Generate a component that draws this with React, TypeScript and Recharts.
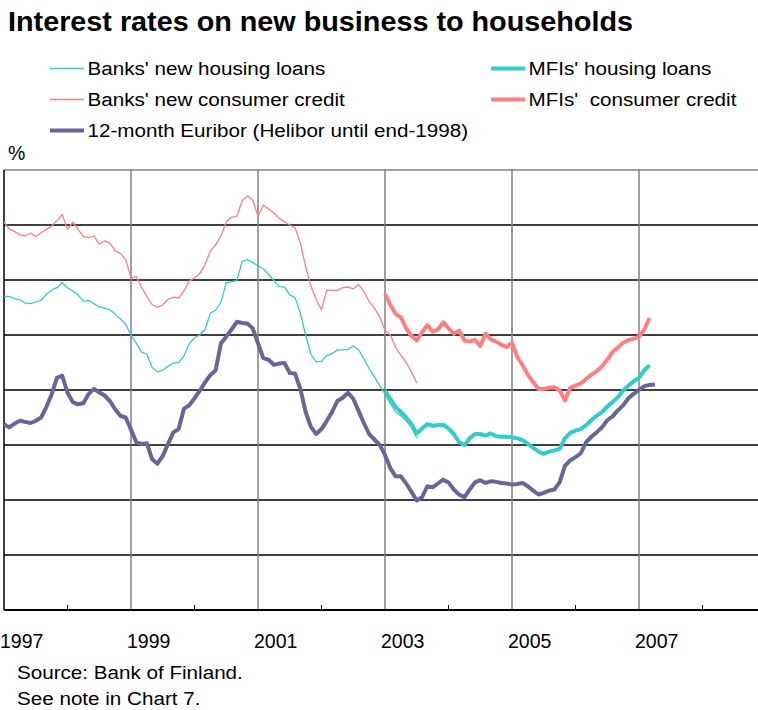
import { LineChart, Line, XAxis, YAxis, ReferenceLine } from 'recharts'

// monthly observations, Jan 1997 = index 0
const startYear = 1997
const mfiStart = 72 // Jan 2003

const euribor = [
  3.38, 3.32, 3.39, 3.44, 3.42, 3.40, 3.44, 3.50, 3.69, 3.92, 4.22, 4.26,
  3.95, 3.78, 3.74, 3.76, 3.93, 4.02, 3.96, 3.90, 3.80, 3.65, 3.53, 3.50,
  3.28, 3.05, 3.02, 3.03, 2.74, 2.66, 2.80, 3.02, 3.23, 3.29, 3.66, 3.72,
  3.85, 3.99, 4.14, 4.27, 4.36, 4.85, 4.97, 5.10, 5.24, 5.22, 5.21, 5.12,
  4.85, 4.58, 4.55, 4.46, 4.48, 4.49, 4.31, 4.30, 4.02, 3.60, 3.33, 3.20,
  3.29, 3.44, 3.60, 3.80, 3.86, 3.95, 3.84, 3.62, 3.40, 3.20, 3.10, 3.00,
  2.82, 2.58, 2.43, 2.43, 2.30, 2.15, 1.99, 2.05, 2.25, 2.23, 2.30, 2.37,
  2.32, 2.19, 2.10, 2.05, 2.19, 2.32, 2.36, 2.31, 2.34, 2.33, 2.31, 2.30,
  2.28, 2.29, 2.31, 2.25, 2.17, 2.10, 2.13, 2.17, 2.19, 2.32, 2.62, 2.72,
  2.78, 2.85, 3.05, 3.15, 3.23, 3.32, 3.45, 3.52, 3.63, 3.72, 3.85, 3.93,
  4.00, 4.07, 4.09, 4.10,
]

const banksHousing = [
  5.70, 5.70, 5.66, 5.64, 5.58, 5.57, 5.60, 5.63, 5.74, 5.82, 5.86, 5.95,
  5.86, 5.80, 5.73, 5.61, 5.63, 5.57, 5.51, 5.49, 5.46, 5.38, 5.29, 5.19,
  5.00, 4.85, 4.69, 4.65, 4.41, 4.33, 4.36, 4.43, 4.49, 4.50, 4.62, 4.84,
  4.95, 5.00, 5.10, 5.40, 5.45, 5.60, 5.95, 5.97, 5.99, 6.34, 6.37, 6.32,
  6.26, 6.20, 6.10, 5.99, 5.88, 5.87, 5.73, 5.68, 5.40, 5.00, 4.65, 4.51,
  4.52, 4.63, 4.66, 4.73, 4.73, 4.74, 4.80, 4.73, 4.57, 4.39, 4.24, 4.08,
  3.93, 3.75, 3.60, 3.53, 3.44, 3.32, 3.13,
]

const banksConsumer = [
  7.05, 6.93, 6.88, 6.82, 6.80, 6.85, 6.79, 6.86, 6.92, 6.98, 7.08, 7.19,
  6.92, 7.05, 6.92, 6.79, 6.77, 6.80, 6.65, 6.71, 6.67, 6.53, 6.48, 6.37,
  6.04, 6.06, 5.87, 5.70, 5.55, 5.50, 5.55, 5.65, 5.69, 5.67, 5.80, 5.98,
  6.04, 6.12, 6.28, 6.53, 6.64, 6.80, 7.06, 7.14, 7.16, 7.44, 7.53, 7.45,
  7.16, 7.36, 7.29, 7.22, 7.12, 7.06, 7.00, 6.95, 6.67, 6.24, 5.89, 5.64,
  5.46, 5.82, 5.81, 5.81, 5.86, 5.87, 5.84, 5.92, 5.79, 5.61, 5.49, 5.33,
  5.08, 5.00, 4.78, 4.63, 4.50, 4.33, 4.13,
]

const mfiHousing = [
  3.99, 3.84, 3.69, 3.60, 3.50, 3.38, 3.21, 3.30, 3.38, 3.35, 3.36, 3.37,
  3.30, 3.20, 3.05, 3.00, 3.12, 3.20, 3.20, 3.17, 3.21, 3.16, 3.15, 3.15,
  3.14, 3.12, 3.09, 3.02, 2.95, 2.88, 2.84, 2.88, 2.90, 2.93, 3.12, 3.22,
  3.26, 3.29, 3.36, 3.45, 3.53, 3.60, 3.70, 3.78, 3.87, 3.99, 4.08, 4.16,
  4.22, 4.36, 4.45,
]

const mfiConsumer = [
  5.75, 5.55, 5.38, 5.32, 5.12, 4.98, 4.90, 5.05, 5.18, 5.06, 5.10, 5.23,
  5.12, 5.02, 5.08, 4.90, 4.88, 4.91, 4.80, 5.02, 4.92, 4.88, 4.82, 4.78,
  4.86, 4.60, 4.45, 4.28, 4.14, 4.02, 4.02, 4.04, 4.05, 3.99, 3.81, 4.04,
  4.08, 4.12, 4.20, 4.28, 4.34, 4.43, 4.55, 4.69, 4.77, 4.86, 4.91, 4.93,
  4.97, 5.10, 5.31,
]

const yearTicks = [1997, 1998, 1999, 2000, 2001, 2002, 2003, 2004, 2005, 2006, 2007, 2008]
const gridYears = [1999, 2001, 2003, 2005, 2007]
const gridValues = [1, 2, 3, 4, 5, 6, 7]

const CYAN = '#33cccc'
const SALMON = '#ff8080'
const PURPLE = '#666699'

const legendItems = [
  { label: "Banks' new housing loans", color: CYAN, width: 1.5, col: 0, row: 0 },
  { label: "Banks' new consumer credit", color: SALMON, width: 1.5, col: 0, row: 1 },
  { label: '12-month Euribor (Helibor until end-1998)', color: PURPLE, width: 4, col: 0, row: 2 },
  { label: "MFIs' housing loans", color: CYAN, width: 4, col: 1, row: 0 },
  { label: "MFIs'  consumer credit", color: SALMON, width: 4, col: 1, row: 1 },
]

const data = euribor.map((v, i) => ({
  t: startYear + i / 12,
  euribor: v,
  banksHousing: i < banksHousing.length ? banksHousing[i] : null,
  banksConsumer: i < banksConsumer.length ? banksConsumer[i] : null,
  mfiHousing: i >= mfiStart && i - mfiStart < mfiHousing.length ? mfiHousing[i - mfiStart] : null,
  mfiConsumer: i >= mfiStart && i - mfiStart < mfiConsumer.length ? mfiConsumer[i - mfiStart] : null,
}))

const FONT = '"Liberation Sans", Arial, sans-serif'

function YearTick(props: any) {
  const { x, y, payload } = props
  const yr = payload.value
  if (yr % 2 === 0) {
    return <line x1={x} x2={x} y1={y} y2={y - 5} stroke="#000" strokeWidth={1} />
  }
  return (
    <text x={x - 4} y={y + 38} textAnchor="start" fontSize={19.5} fontFamily={FONT} fill="#000">
      {yr}
    </text>
  )
}

const lineProps = { dot: false, activeDot: false, isAnimationActive: false, strokeLinejoin: 'round' as const }

export default function App() {
  return (
    <div style={{ position: 'absolute', left: 0, top: 0, width: 758, height: 710, overflow: 'hidden', background: '#fff' }}>
      <LineChart
        width={770}
        height={660}
        data={data}
        margin={{ top: 170, right: 4, bottom: 10, left: 4 }}
        style={{ position: 'absolute', left: 0, top: 0 }}
      >
        <XAxis
          dataKey="t"
          type="number"
          domain={[1997, 2009]}
          ticks={yearTicks}
          interval={0}
          tick={<YearTick />}
          tickLine={false}
          tickSize={0}
          tickMargin={0}
          height={40}
          axisLine={{ stroke: '#000', strokeWidth: 2 }}
        />
        <YAxis type="number" domain={[0, 8]} hide />
        {gridValues.map((v) => (
          <ReferenceLine key={'h' + v} y={v} stroke="#000" strokeWidth={1.5} />
        ))}
        <ReferenceLine y={8} stroke="#808080" strokeWidth={1.5} />
        {gridYears.map((yr) => (
          <ReferenceLine key={'v' + yr} x={yr} stroke="#808080" strokeWidth={1.5} />
        ))}
        <ReferenceLine x={1997} stroke="#000" strokeWidth={1.5} />
        <Line dataKey="banksHousing" stroke={CYAN} strokeWidth={1.3} {...lineProps} />
        <Line dataKey="banksConsumer" stroke={SALMON} strokeWidth={1.3} {...lineProps} />
        <Line dataKey="mfiHousing" stroke={CYAN} strokeWidth={4} {...lineProps} />
        <Line dataKey="mfiConsumer" stroke={SALMON} strokeWidth={4} {...lineProps} />
        <Line dataKey="euribor" stroke={PURPLE} strokeWidth={4} {...lineProps} />
      </LineChart>

      <svg width={758} height={710} style={{ position: 'absolute', left: 0, top: 0, pointerEvents: 'none' }} fontFamily={FONT}>
        <text transform="translate(8,31) scale(1.028,1)" fontSize={28} fontWeight="bold" fill="#000">
          Interest rates on new business to households
        </text>
        {legendItems.map((it) => {
          const lx = it.col === 0 ? 50 : 491
          const ly = 68.5 + it.row * 31
          return (
            <g key={it.label}>
              <line x1={lx} x2={lx + 34} y1={ly} y2={ly} stroke={it.color} strokeWidth={it.width} />
              <text
                transform={`translate(${lx + 37.5},${ly + 6.7}) scale(1.11,1)`}
                fontSize={18.6}
                fill="#000"
                style={{ whiteSpace: 'pre' }}
              >
                {it.label}
              </text>
            </g>
          )
        })}
        <text x={8} y={160} fontSize={19.5} fill="#000">%</text>
        <text transform="translate(17,679) scale(1.11,1)" fontSize={18.6} fill="#000">Source: Bank of Finland.</text>
        <text transform="translate(17,705) scale(1.11,1)" fontSize={18.6} fill="#000">See note in Chart 7.</text>
      </svg>
    </div>
  )
}
